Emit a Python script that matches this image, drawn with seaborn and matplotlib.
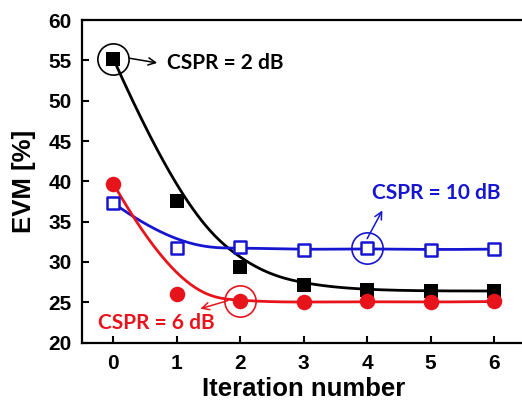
import numpy as np
import pandas as pd
import matplotlib
matplotlib.use("Agg")
import matplotlib.pyplot as plt
import seaborn as sns

# EVM versus iteration number for three carrier-to-signal power ratios
iterations = [0, 1, 2, 3, 4, 5, 6]
evm_cspr2 = [55.2, 37.6, 29.4, 27.2, 26.5, 26.4, 26.4]
evm_cspr6 = [39.7, 26.0, 25.1, 25.0, 25.1, 25.0, 25.1]
evm_cspr10 = [37.3, 31.7, 31.8, 31.5, 31.7, 31.5, 31.6]

BLACK = "#000000"
RED = "#e8141c"
BLUE = "#1616d2"


def bspline(px, py, k=3, n=300):
    """Clamped cubic B-spline using the data points as control points."""
    px = np.asarray(px, float)
    py = np.asarray(py, float)
    m = len(px)
    knots = np.concatenate([np.zeros(k), np.linspace(0, 1, m - k + 1), np.ones(k)])
    t = np.linspace(0, 1, n)
    t[-1] -= 1e-9
    N = np.array([((knots[i] <= t) & (t < knots[i + 1])).astype(float)
                  for i in range(len(knots) - 1)])
    for p in range(1, k + 1):
        newN = np.zeros((len(knots) - 1 - p, n))
        for i in range(len(knots) - 1 - p):
            d1 = knots[i + p] - knots[i]
            d2 = knots[i + p + 1] - knots[i + 1]
            a = (t - knots[i]) / d1 * N[i] if d1 > 0 else 0.0
            b = (knots[i + p + 1] - t) / d2 * N[i + 1] if d2 > 0 else 0.0
            newN[i] = a + b
        N = newN
    return N.T @ px, N.T @ py


sns.set_theme(style="ticks")
plt.rcParams["font.family"] = ["Liberation Sans", "DejaVu Sans"]
plt.rcParams["text.color"] = "black"
plt.rcParams["axes.labelcolor"] = "black"
plt.rcParams["xtick.color"] = "black"
plt.rcParams["ytick.color"] = "black"

fig = plt.figure(figsize=(5.22, 4.04), dpi=100)
ax = fig.add_axes([0.1565, 0.152, 0.8507, 0.798])

series = [
    (evm_cspr2, BLACK, "s", True),
    (evm_cspr10, BLUE, "s", False),
    (evm_cspr6, RED, "o", True),
]

for vals, col, mk, filled in series:
    cx, cy = bspline(iterations, vals)
    curve = pd.DataFrame({"x": cx, "y": cy})
    sns.lineplot(data=curve, x="x", y="y", sort=False, color=col, lw=2.0,
                 ax=ax, zorder=2)

for vals, col, mk, filled in series:
    pts = pd.DataFrame({"x": iterations, "y": vals})
    if filled:
        sns.scatterplot(data=pts, x="x", y="y", marker=mk, s=105 if mk == "s" else 125,
                        color=col, edgecolor=col, linewidth=0, ax=ax, zorder=3)
    else:
        sns.scatterplot(data=pts, x="x", y="y", marker=mk, s=72,
                        facecolor="white", edgecolor=col, linewidth=1.8,
                        ax=ax, zorder=3)

# highlighted points with labels
label_font = dict(family=["Lato", "DejaVu Sans"], fontweight="bold", fontsize=15)
arrow = dict(arrowstyle="->", lw=1.1, shrinkA=0, shrinkB=0, mutation_scale=13)

for xc, yc, col in [(0, evm_cspr2[0], BLACK), (4, evm_cspr10[4], BLUE),
                    (2, evm_cspr6[2], RED)]:
    ax.plot([xc], [yc], marker="o", ms=22.5, mfc="none", mec=col, mew=1.2,
            zorder=4, clip_on=False)

ax.annotate("", xy=(0.69, 54.7), xytext=(0.24, 55.3),
            arrowprops=dict(arrow, color=BLACK))
ax.text(0.85, 54.7, "CSPR = 2 dB", color=BLACK, va="center", ha="left", **label_font)

ax.annotate("", xy=(4.24, 36.4), xytext=(4.0, 32.9),
            arrowprops=dict(arrow, color=BLUE))
ax.text(4.08, 38.6, "CSPR = 10 dB", color=BLUE, va="center", ha="left", **label_font)

ax.annotate("", xy=(1.37, 24.2), xytext=(1.8, 25.2),
            arrowprops=dict(arrow, color=RED))
ax.text(-0.25, 22.4, "CSPR = 6 dB", color=RED, va="center", ha="left", **label_font)

ax.set_xlim(-0.5, 6.5)
ax.set_ylim(20, 60)
ax.set_xticks(iterations)
ax.set_yticks(range(20, 61, 5))
ax.tick_params(direction="in", length=5, width=1.5, labelsize=15)
ax.tick_params(axis="x", pad=8)
ax.tick_params(axis="y", pad=7)
for lbl in ax.get_xticklabels() + ax.get_yticklabels():
    lbl.set_fontweight("bold")
ax.set_xlabel("Iteration number", fontsize=18.5, fontweight="bold", labelpad=3)
ax.set_ylabel("EVM [%]", fontsize=18.5, fontweight="bold", labelpad=9)
for side in ["left", "bottom", "top", "right"]:
    ax.spines[side].set_linewidth(1.6)
    ax.spines[side].set_color("black")

fig.savefig("out.png", dpi=100)
